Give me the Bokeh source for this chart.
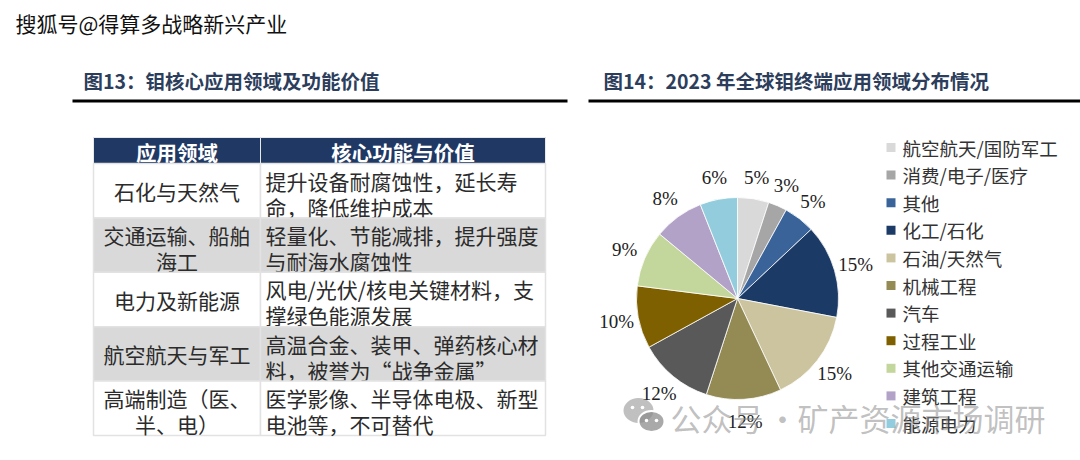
import math
from bokeh.plotting import figure
from bokeh.models import Range1d
from bokeh.core.properties import value
from bokeh.embed import file_html
from bokeh.resources import INLINE

W, H = 1080, 460

# ---------------- data ----------------
page_mark = "搜狐号@得算多战略新兴产业"
title_left = "图13：钼核心应用领域及功能价值"
title_right = "图14：2023 年全球钼终端应用领域分布情况"

table_header = ["应用领域", "核心功能与价值"]
table_fields = [
    ["石化与天然气"],
    ["交通运输、船舶", "海工"],
    ["电力及新能源"],
    ["航空航天与军工"],
    ["高端制造（医、", "半、电）"],
]
table_values = [
    ["提升设备耐腐蚀性，延长寿", "命，降低维护成本"],
    ["轻量化、节能减排，提升强度", "与耐海水腐蚀性"],
    ["风电/光伏/核电关键材料，支", "撑绿色能源发展"],
    ["高温合金、装甲、弹药核心材", "料，被誉为“战争金属”"],
    ["医学影像、半导体电极、新型", "电池等，不可替代"],
]

pie_categories = ["航空航天/国防军工", "消费/电子/医疗", "其他", "化工/石化", "石油/天然气",
                  "机械工程", "汽车", "过程工业", "其他交通运输", "建筑工程", "能源电力"]
pie_values = [5, 3, 5, 15, 15, 12, 12, 10, 9, 8, 6]
pie_colors = ["#D9D9D9", "#A6A6A6", "#3A6499", "#1B3A66", "#CBC49E", "#948A54",
              "#595959", "#7F6000", "#C3D69B", "#B3A2C7", "#93CDDD"]

wm_parts = ["公众号", "·", "矿产资源市场调研"]

# ---------------- figure ----------------
def Y(y):
    return H - y

p = figure(width=W, height=H, x_range=Range1d(0, W), y_range=Range1d(0, H),
           output_backend="svg", toolbar_location=None, min_border=0,
           x_axis_location=None, y_axis_location=None)
p.grid.visible = False
p.outline_line_color = None
p.background_fill_color = "white"
p.border_fill_color = "white"

CJK = value("Noto Sans CJK SC")

# top-left page watermark
p.text(x=[15], y=[Y(22)], text=[page_mark], text_font=CJK, text_font_size="21px",
       text_color="#111111", text_baseline="middle", text_align="left")

# titles + rules
title_color = "#2C3E5C"
p.text(x=[83], y=[Y(80)], text=[title_left], text_font=CJK, text_font_size="19.5px",
       text_font_style="bold", text_color=title_color, text_baseline="middle")
p.text(x=[603], y=[Y(80)], text=[title_right], text_font=CJK, text_font_size="19.5px",
       text_font_style="bold", text_color=title_color, text_baseline="middle")
p.segment(x0=[72, 588], y0=[Y(100.5)] * 2, x1=[567, W], y1=[Y(100.5)] * 2,
          line_color="black", line_width=3)

# ---------------- table ----------------
tx0, tx1, tdiv = 93, 545, 260
head_top, head_h = 137, 26
row_h = (435 - (head_top + head_h)) / len(table_fields)
text_color = "#2B2B2B"

p.quad(left=[tx0, tdiv], right=[tdiv, tx1], top=[Y(head_top)] * 2, bottom=[Y(head_top + head_h)] * 2,
       fill_color="#1F3864", line_color="#E8E8E8", line_width=1)
p.text(x=[(tx0 + tdiv) / 2, (tdiv + tx1) / 2], y=[Y(head_top + head_h / 2 + 1)] * 2, text=table_header,
       text_font=CJK, text_font_size="20.5px", text_font_style="bold", text_color="white",
       text_align="center", text_baseline="middle")

for i, (fld, val) in enumerate(zip(table_fields, table_values)):
    top = head_top + head_h + i * row_h
    fill = "#D9D9D9" if i % 2 == 1 else "white"
    p.quad(left=[tx0, tdiv], right=[tdiv, tx1], top=[Y(top)] * 2, bottom=[Y(top + row_h)] * 2,
           fill_color=fill, line_color="#E2E2E2", line_width=1.5)
    def line_y(n, k):
        if n == 1:
            return top + row_h / 2
        return top + 17 + k * 26
    p.text(x=[(tx0 + tdiv) / 2] * len(fld), y=[Y(line_y(len(fld), k)) for k in range(len(fld))],
           text=fld, text_font=CJK, text_font_size="21px", text_color=text_color,
           text_align="center", text_baseline="middle")
    p.text(x=[265] * len(val), y=[Y(line_y(len(val), k)) for k in range(len(val))],
           text=val, text_font=CJK, text_font_size="21px", text_color=text_color,
           text_align="left", text_baseline="middle")

# ---------------- pie ----------------
cx, cy, r = 737, Y(298), 101
total = sum(pie_values)
starts, ends, lx, ly, labels = [], [], [], [], []
cum = 0
for v in pie_values:
    a0 = math.pi / 2 - 2 * math.pi * cum / total
    a1 = math.pi / 2 - 2 * math.pi * (cum + v) / total
    am = math.pi / 2 - 2 * math.pi * (cum + v / 2) / total
    starts.append(a0)
    ends.append(a1)
    lx.append(cx + 123 * math.cos(am))
    ly.append(cy + 123 * math.sin(am))
    labels.append(f"{v}%")
    cum += v

p.wedge(x=cx, y=cy, radius=r, start_angle=starts, end_angle=ends, direction="clock",
        fill_color=pie_colors, line_color="white", line_width=0.8)
p.text(x=lx, y=ly, text=labels, text_font=value("Liberation Serif"), text_font_size="19px",
       text_color="#222222", text_align="center", text_baseline="middle")

# legend
leg_y = [147 + i * 27.6 for i in range(len(pie_categories))]
p.rect(x=[890.5] * len(pie_categories), y=[Y(v) for v in leg_y], width=9, height=9,
       fill_color=pie_colors, line_color=None)
p.text(x=[902] * len(pie_categories), y=[Y(v) for v in leg_y], text=pie_categories,
       text_font=CJK, text_font_size="18.5px", text_color="#333333",
       text_align="left", text_baseline="middle")

# ---------------- bottom watermark ----------------
wm_color = "#8C8C8C"
p.ellipse(x=[638], y=[Y(410)], width=30, height=25, fill_color=wm_color, fill_alpha=0.55, line_color=None)
p.ellipse(x=[651], y=[Y(421)], width=26, height=21, fill_color=wm_color, fill_alpha=0.75,
          line_color="white", line_width=2)
p.circle(x=[632, 642, 646, 656], y=[Y(407), Y(407), Y(420), Y(420)], radius=1.8,
         fill_color="white", line_color=None)
p.text(x=[670, 782, 797], y=[Y(417)] * 3, text=wm_parts, text_font=CJK, text_font_size="31px",
       text_color=wm_color, text_alpha=0.55, text_align=["left", "center", "left"],
       text_baseline="middle")

open("out.html", "w").write(file_html(p, INLINE))
